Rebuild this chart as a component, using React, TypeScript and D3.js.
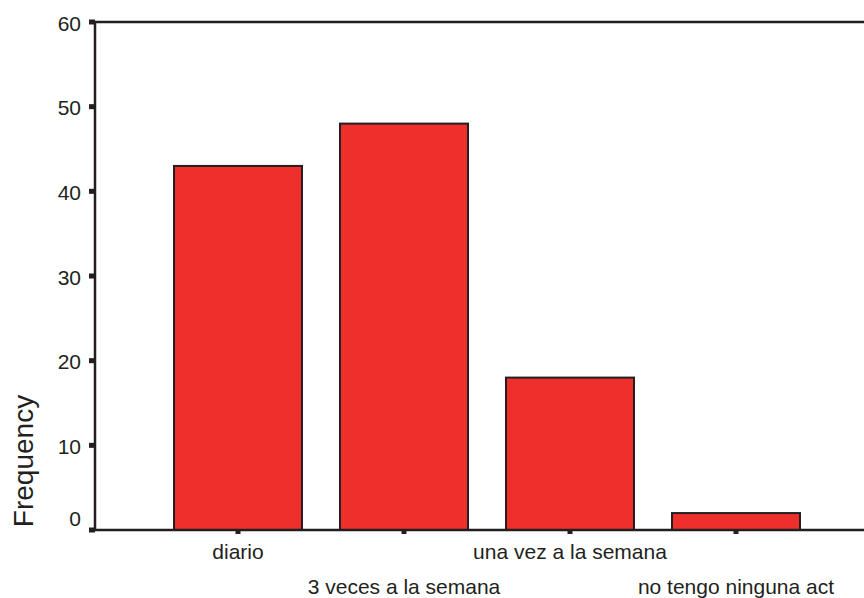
import React from "react"
import * as d3 from "d3"

const categories = ["diario", "3 veces a la semana", "una vez a la semana", "no tengo ninguna act"]
const frequencies = [43, 48, 18, 2]
const yTicks = [0, 10, 20, 30, 40, 50, 60]

const W = 864
const H = 598
const FONT = "'Liberation Sans', Arial, sans-serif"

export default function App() {
  const left = 95
  const top = 22
  const bottom = 530

  const x = d3.scaleBand<string>()
    .domain(categories)
    .range([155, 819])
    .paddingInner(0.229)
    .paddingOuter(0.1145)

  const y = d3.scaleLinear().domain([0, 60]).range([bottom, top])

  return (
    <svg width={W} height={H} style={{ position: "absolute", left: 0, top: 0, background: "#fff" }}>
      {/* bars */}
      {categories.map((c, i) => (
        <rect
          key={c}
          x={x(c)}
          y={y(frequencies[i])}
          width={x.bandwidth()}
          height={y(0) - y(frequencies[i])}
          fill="#ee2f2b"
          stroke="#231f20"
          strokeWidth={2}
        />
      ))}

      {/* frame lines */}
      <line x1={left} x2={W} y1={top} y2={top} stroke="#231f20" strokeWidth={2.5} />
      <line x1={left} x2={left} y1={top} y2={bottom} stroke="#231f20" strokeWidth={2.5} />
      <line x1={left} x2={W} y1={bottom} y2={bottom} stroke="#231f20" strokeWidth={2.5} />

      {/* y ticks */}
      {yTicks.map((t) => (
        <g key={t}>
          <rect x={left - 6} y={y(t) - 2.5} width={6} height={5} fill="#231f20" />
          <text
            x={81}
            y={y(t) + (t === 0 ? -12 : 1)}
            textAnchor="end"
            dominantBaseline="central"
            fontFamily={FONT}
            fontSize={21}
            fill="#231f20"
          >
            {t}
          </text>
        </g>
      ))}

      {/* x ticks and staggered labels */}
      {categories.map((c, i) => {
        const cx = (x(c) as number) + x.bandwidth() / 2
        return (
          <g key={c}>
            <rect x={cx - 2.5} y={bottom} width={5} height={4} fill="#231f20" />
            <text
              x={cx}
              y={i % 2 === 0 ? 559 : 594}
              textAnchor="middle"
              fontFamily={FONT}
              fontSize={21}
              fill="#231f20"
            >
              {c}
            </text>
          </g>
        )
      })}

      <text
        transform="translate(33,461) rotate(-90)"
        textAnchor="middle"
        fontFamily={FONT}
        fontSize={28}
        fill="#231f20"
      >
        Frequency
      </text>
    </svg>
  )
}
